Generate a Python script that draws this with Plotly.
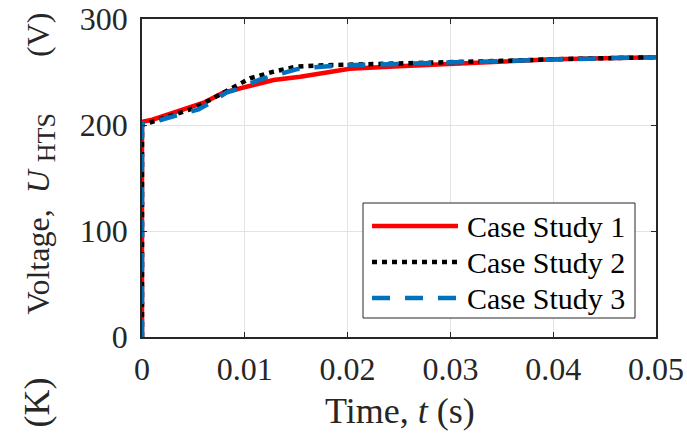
import plotly.graph_objects as go

# Data (time in s, voltage in V)
t1 = [0, 0, 0.001, 0.003, 0.006, 0.0079, 0.0102, 0.0128, 0.0154, 0.0173, 0.0202, 0.025, 0.030, 0.035, 0.040, 0.045, 0.050]
v1 = [0, 203, 205, 211, 221, 230.5, 236, 242.5, 245.6, 248.8, 253, 255.5, 257.8, 260.2, 262, 263, 264]

t2 = [0, 0, 0.001, 0.0037, 0.005, 0.0066, 0.0086, 0.0105, 0.0128, 0.015, 0.0173, 0.0205, 0.025, 0.030, 0.035, 0.040, 0.045, 0.050]
v2 = [0, 200, 203, 211.6, 215.7, 223.6, 234.6, 244, 250.3, 255, 256.2, 256.8, 257.8, 259, 260.5, 262, 263, 264]

t3 = [0, 0, 0.0018, 0.0034, 0.0055, 0.0063, 0.0082, 0.0092, 0.0115, 0.015, 0.016, 0.019, 0.025, 0.030, 0.035, 0.040, 0.045, 0.050]
v3 = [0, 201, 204.7, 208.8, 214.8, 219, 230.5, 233.7, 243, 252.5, 254, 256, 257.8, 259, 260.5, 262, 263, 264]

names = ["Case Study 1", "Case Study 2", "Case Study 3"]
x_ticks = [0, 0.01, 0.02, 0.03, 0.04, 0.05]
x_ticktext = ["0", "0.01", "0.02", "0.03", "0.04", "0.05"]
y_ticks = [0, 100, 200, 300]

FONT = "Liberation Serif, Times New Roman, serif"
styles = [
    dict(color="#ff0000", width=4.5),
    dict(color="#000000", width=4.5, dash="5px,5px"),
    dict(color="#0072bd", width=4.5, dash="18px,15px"),
]

fig = go.Figure()
for tt, vv, nm, st in zip([t1, t2, t3], [v1, v2, v3], names, styles):
    fig.add_trace(go.Scatter(x=tt, y=vv, mode="lines", name=nm, line=st, showlegend=False))

axis_common = dict(
    showline=True, linecolor="#262626", linewidth=1.5, mirror="ticks",
    ticks="inside", ticklen=5, tickwidth=1, tickcolor="#262626",
    showgrid=True, gridcolor="#e3e3e3", gridwidth=1, zeroline=False,
    tickfont=dict(family=FONT, size=32, color="#262626"),
    automargin=False, ticklabeloverflow="allow",
)

fig.update_xaxes(range=[0, 0.05], tickvals=x_ticks, ticktext=x_ticktext,
                 ticklabelstandoff=3, **axis_common)
fig.update_yaxes(range=[0, 300], tickvals=y_ticks, ticklabelstandoff=6, **axis_common)

# page-pixel -> paper helpers (plot area: x 142..656, y 19..337)
def px(X):
    return (X - 142) / 514

def py(Y):
    return (337 - Y) / 318

fig.add_annotation(text="Voltage,&nbsp;&nbsp;<i>U</i>&nbsp;<sub><span style='font-size:26px'>HTS</span></sub>&nbsp;&nbsp;&nbsp;&nbsp;&nbsp;&nbsp;&nbsp;(V)",
                   textangle=-90, xref="paper", yref="paper", x=px(41), y=py(163.5),
                   showarrow=False, xanchor="center", yanchor="middle",
                   font=dict(family=FONT, size=32, color="#262626"))
fig.add_annotation(text="(K)", textangle=-90, xref="paper", yref="paper",
                   x=px(36.5), y=py(403), showarrow=False, xanchor="center", yanchor="middle",
                   font=dict(family=FONT, size=36, color="#262626"))
fig.add_annotation(text="Time, <i>t</i> (s)", xref="paper", yref="paper",
                   x=px(400), y=py(411), showarrow=False, xanchor="center", yanchor="middle",
                   font=dict(family=FONT, size=36, color="#262626"))

# Legend box (drawn in paper coordinates)
fig.add_shape(type="rect", xref="paper", yref="paper",
              x0=px(363), x1=px(635), y0=py(318), y1=py(203),
              line=dict(color="#262626", width=1), fillcolor="white", layer="above")
row_y = [226, 262, 298]
for nm, st, ry in zip(names, styles, row_y):
    fig.add_shape(type="line", xref="paper", yref="paper",
                  x0=px(372), x1=px(458), y0=py(ry), y1=py(ry),
                  line=st, layer="above")
    fig.add_annotation(text=nm, xref="paper", yref="paper", x=px(465), y=py(ry),
                       showarrow=False, xanchor="left", yanchor="middle",
                       font=dict(family=FONT, size=30, color="#000000"))

fig.update_layout(
    width=687, height=435,
    margin=dict(l=142, r=31, t=19, b=98),
    paper_bgcolor="white", plot_bgcolor="white",
    showlegend=False,
)

# remove the default 8px page margin so the figure fills the window exactly
fig.write_html("out.html",
               config={"displayModeBar": False},
               post_script="document.body.style.margin='0';document.body.style.overflow='hidden';")
